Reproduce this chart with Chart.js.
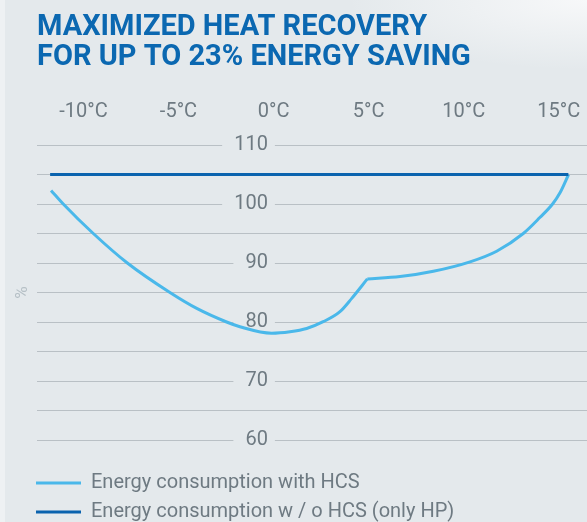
<!DOCTYPE html>
<html>
<head>
<meta charset="utf-8">
<title>Maximized heat recovery</title>
<script src="https://cdn.jsdelivr.net/npm/chart.js@4.4.1/dist/chart.umd.min.js"></script>
<style>
  html, body { margin: 0; padding: 0; overflow: hidden; }
  body {
    width: 587px;
    height: 522px;
    background:
      linear-gradient(to right, #eef1f3 5px, rgba(238, 241, 243, 0) 5px),
      radial-gradient(ellipse 240px 70px at 100% 0%, #f7f8f9 0%, rgba(228, 233, 236, 0) 100%),
      #e4e9ec;
  }
  .chart-box { position: relative; width: 587px; height: 532px; }
</style>
</head>
<body>
<div class="chart-box"><canvas id="heatChart"></canvas></div>
<script>
// outdoor temperature (°C) -> energy consumption (%)
// the HCS curve has a sharp kink at ~5°C, so it is kept in two pieces
const hcsColdTemps = [-11.7, -11.06, -9.48, -7.69, -5.45, -4.04, -2.47, -1.77, -0.1, 0.86, 1.74, 2.61, 3.49, 4.11, 4.93];
const hcsColdValues = [102.3, 100, 95, 90, 85, 82.3, 80, 79.2, 78.1, 78.35, 78.9, 80.05, 81.75, 84.0, 87.3];
const hcsWarmTemps = [4.93, 6.65, 8.4, 10.33, 11.73, 13.13, 14.0, 14.67, 15.06, 15.51];
const hcsWarmValues = [87.3, 87.7, 88.6, 90.2, 92.0, 95, 97.7, 100, 101.9, 105];
const hpTemps = [-11.75, 15.5];
const hpValues = [105, 105];

const xTicks = [-10, -5, 0, 5, 10, 15];
const yTicks = [60, 65, 70, 75, 80, 85, 90, 95, 100, 105, 110];
const yLabels = [60, 70, 80, 90, 100, 110];

const BG = '#e4e9ec';
const TEXT_GREY = '#6e7a82';
const LIGHT_BLUE = '#4ab8ea';
const DARK_BLUE = '#0a63ae';

function toPoints(xs, ys) {
    return xs.map((x, i) => ({ x: x, y: ys[i] }));
}

const ctx = document.getElementById('heatChart').getContext('2d');
const heatChart = new Chart(ctx, {
    type: 'line',
    data: {
        datasets: [
            {
                label: 'Energy consumption with HCS',
                data: toPoints(hcsColdTemps, hcsColdValues),
                borderColor: LIGHT_BLUE,
                backgroundColor: LIGHT_BLUE,
                borderWidth: 3,
                cubicInterpolationMode: 'monotone',
                yAxisID: 'y'
            },
            {
                label: 'Energy consumption w / o HCS (only HP)',
                data: toPoints(hpTemps, hpValues),
                borderColor: DARK_BLUE,
                backgroundColor: DARK_BLUE,
                borderWidth: 3,
                yAxisID: 'y'
            },
            {
                // second half of the HCS curve (not in legend)
                label: '',
                data: toPoints(hcsWarmTemps, hcsWarmValues),
                borderColor: LIGHT_BLUE,
                backgroundColor: LIGHT_BLUE,
                borderWidth: 3,
                cubicInterpolationMode: 'monotone',
                yAxisID: 'y'
            }
        ]
    },
    options: {
        responsive: true,
        maintainAspectRatio: false,
        animation: false,
        events: [],
        elements: { point: { radius: 0 } },
        layout: { padding: { left: 27, right: 0, top: 0, bottom: 0 } },
        plugins: {
            title: {
                display: true,
                text: ['MAXIMIZED HEAT RECOVERY', 'FOR UP TO 23% ENERGY SAVING'],
                align: 'start',
                fullSize: false,
                color: '#0b68b1',
                font: { family: 'Roboto', size: 29, weight: 'bold', lineHeight: '30px' },
                padding: { top: 13, bottom: 24 }
            },
            legend: {
                position: 'bottom',
                align: 'start',
                title: {
                    // empty title only adds the gap above the legend rows
                    display: true,
                    text: '',
                    font: { size: 10, lineHeight: '24px' },
                    padding: 0
                },
                labels: {
                    usePointStyle: true,
                    pointStyle: 'line',
                    pointStyleWidth: 45,
                    padding: 9,
                    color: TEXT_GREY,
                    font: { family: 'Roboto', size: 20 },
                    filter: item => item.datasetIndex < 2
                }
            },
            tooltip: { enabled: false }
        },
        scales: {
            x: {
                type: 'linear',
                position: 'top',
                min: -12.44,
                max: 16.48,
                afterBuildTicks: scale => { scale.ticks = xTicks.map(v => ({ value: v })); },
                // invisible tick marks give the gap between labels and plot
                grid: { display: true, drawOnChartArea: false, drawTicks: true, tickLength: 18, tickColor: 'rgba(0,0,0,0)' },
                border: { display: false },
                ticks: {
                    autoSkip: false,
                    maxRotation: 0,
                    padding: 3,
                    color: TEXT_GREY,
                    font: { family: 'Roboto', size: 20 },
                    callback: v => v + '°C'
                }
            },
            y: {
                type: 'linear',
                position: { x: -0.3 },
                min: 60,
                max: 110,
                afterBuildTicks: scale => { scale.ticks = yTicks.map(v => ({ value: v })); },
                grid: { color: '#b9c0c5', lineWidth: 1, drawTicks: false },
                border: { display: false },
                ticks: {
                    padding: 6,
                    color: TEXT_GREY,
                    font: { family: 'Roboto', size: 20 },
                    callback: v => yLabels.includes(v) ? String(v) : '',
                    showLabelBackdrop: c => yLabels.includes(c.tick.value),
                    backdropColor: BG,
                    backdropPadding: { left: 12, right: 7, top: 0, bottom: 0 }
                }
            },
            yPct: {
                // left axis only carries the "%" title
                axis: 'y',
                type: 'linear',
                position: 'left',
                min: 60,
                max: 110,
                grid: { display: false, drawTicks: false },
                border: { display: false },
                ticks: { display: false },
                title: {
                    display: true,
                    text: '%',
                    color: '#b6c0c6',
                    font: { family: 'Roboto', size: 17, lineHeight: 1 },
                    padding: { top: -13, bottom: 6 }
                }
            }
        }
    }
});
</script>
</body>
</html>
